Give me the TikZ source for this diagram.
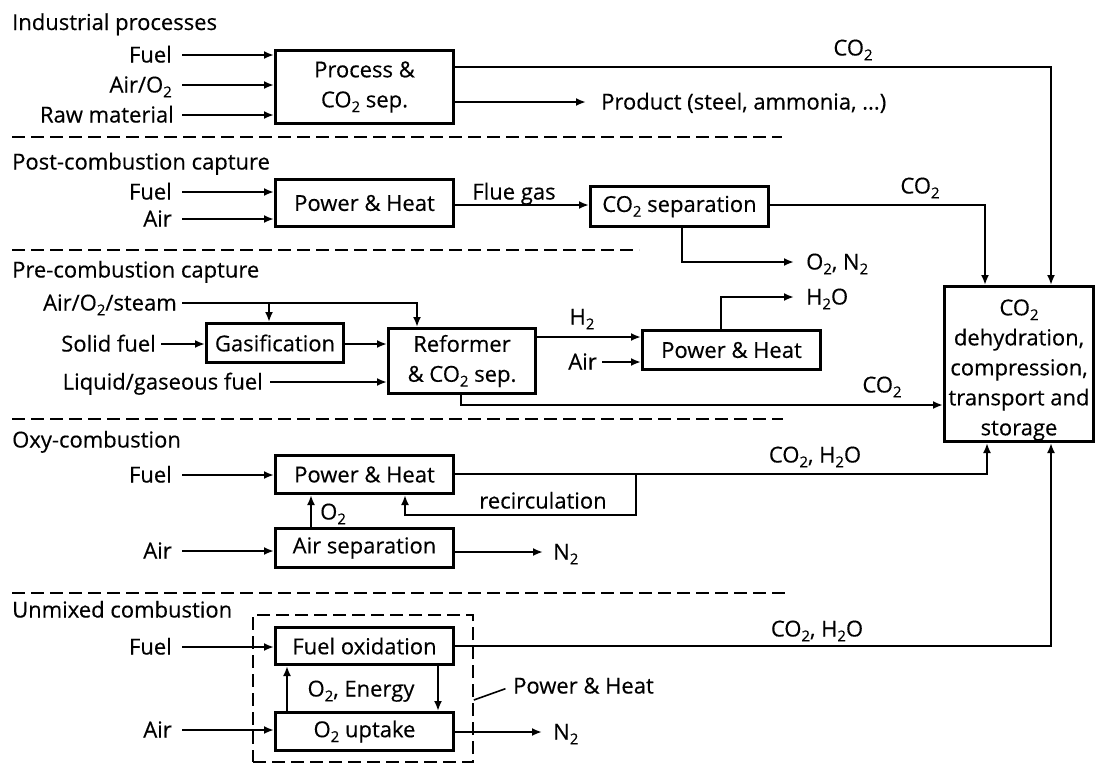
\documentclass[tikz,border=0pt]{standalone}
\usepackage{fontspec}
\setmainfont{Open Sans}
\newfontfamily\myf{Open Sans}[FakeBold=0.35]
\usetikzlibrary{arrows.meta}
\newcommand{\sbt}[1]{\raisebox{-4.8pt}{\fontsize{15}{15}\selectfont #1}}
\begin{document}
\begin{tikzpicture}[x=1pt,y=-1pt,
  every node/.style={font=\myf\fontsize{22}{30}\selectfont},
  box/.style={draw, line width=3pt, inner sep=0pt, align=center},
  arr/.style={line width=2.1pt, -{Latex[length=10pt,width=8pt]}},
  lab/.style={inner sep=0pt, text height=15pt, text depth=0pt},
  sepline/.style={line width=1.6pt, dash pattern=on 13pt off 6pt},
]
\useasboundingbox (0,0) rectangle (1097,764);

% ---------- boxes ----------
\node[box, minimum width=178pt, minimum height=73pt] (proc) at (364.5,87) {Process \&\\CO\sbt{2} sep.};
\node[box, minimum width=178pt, minimum height=47pt] (ph1) at (364.5,203) {Power \& Heat};
\node[box, minimum width=178pt, minimum height=40pt] (sep1) at (679.5,206.5) {CO\sbt{2} separation};
\node[box, minimum width=137pt, minimum height=39pt] (gas) at (275,343) {Gasification};
\node[box, minimum width=147pt, minimum height=65pt] (ref) at (462,361) {Reformer\\\& CO\sbt{2} sep.};
\node[box, minimum width=178pt, minimum height=39pt] (ph2) at (731.5,350) {Power \& Heat};
\node[box, minimum width=178pt, minimum height=38pt] (ph3) at (364.5,474.5) {Power \& Heat};
\node[box, minimum width=178pt, minimum height=39pt] (asep) at (364.5,548) {Air separation};
\node[box, minimum width=178pt, minimum height=37pt] (fox) at (364.5,646) {Fuel oxidation};
\node[box, minimum width=178pt, minimum height=38pt] (o2u) at (364.5,731.5) {O\sbt{2} uptake};
\node[box, minimum width=149pt, minimum height=155pt] (store) at (1019,364) {};
\node[align=center, inner sep=0pt] (storetxt) at ([yshift=-6pt]store.center) {CO\sbt{2}\\dehydration,\\compression,\\transport and\\storage};
\node[draw, line width=1.6pt, dash pattern=on 13pt off 6pt, minimum width=220pt, minimum height=147pt, inner sep=0pt] (dbox) at (363,688.5) {};

% ---------- separators ----------
\draw[sepline] (12,137) -- (782,137);
\draw[sepline] (12,250) -- (639,250);
\draw[sepline] (12,419) -- (783,419);
\draw[sepline] (12,593) -- (785,593);

% ---------- section titles ----------
\node[lab, anchor=west] (t1) at (12,22.5) {Industrial processes};
\node[lab, anchor=west] (t2) at (12,162) {Post-combustion capture};
\node[lab, anchor=west] (t3) at (12,270) {Pre-combustion capture};
\node[lab, anchor=west] (t4) at (12,440) {Oxy-combustion};
\node[lab, anchor=west] (t5) at (12,610) {Unmixed combustion};

% ---------- industrial ----------
\node[lab, anchor=east] (f1) at (172,55) {Fuel};
\node[lab, anchor=east] (a1) at (172,85) {Air/O\sbt{2}};
\node[lab, anchor=east] (r1) at (174,115) {Raw material};
\draw[arr, shorten <=10pt] (f1.east) -- (f1.east -| proc.west);
\draw[arr, shorten <=10pt] (a1.east) -- (a1.east -| proc.west);
\draw[arr, shorten <=8pt] (r1.east) -- (r1.east -| proc.west);
\node[lab, anchor=west] (prod) at (601,102) {Product (steel, ammonia, ...)};
\draw[arr, shorten >=15pt] (proc.east |- prod.west) -- (prod.west);
\draw[arr] (proc.east |- 0,67) -| ([xshift=32pt]store.north);
\node[lab] (lc1) at (853,48) {CO\sbt{2}};

% ---------- post-combustion ----------
\node[lab, anchor=east] (f2) at (172,192) {Fuel};
\node[lab, anchor=east] (a2) at (172,219) {Air};
\draw[arr, shorten <=10pt] (f2.east) -- (f2.east -| ph1.west);
\draw[arr, shorten <=10pt] (a2.east) -- (a2.east -| ph1.west);
\draw[arr] (ph1.east |- 0,205) -- (sep1.west |- 0,205);
\node[lab] (flue) at (514,192) {Flue gas};
\draw[arr] (sep1.east |- 0,205) -| ([xshift=-34pt]store.north);
\node[lab] (lc2) at (920,186) {CO\sbt{2}};
\node[lab, anchor=west] (on2) at (806,262) {O\sbt{2}, N\sbt{2}};
\draw[arr, shorten >=12pt] (sep1.south -| 682,0) |- (on2.west);

% ---------- pre-combustion ----------
\node[lab, anchor=east] (aos) at (177,303) {Air/O\sbt{2}/steam};
\node[lab, anchor=east] (sf) at (156,344) {Solid fuel};
\node[lab, anchor=east] (lgf) at (263,382) {Liquid/gaseous fuel};
\draw[arr, shorten <=5pt] (aos.east) -| ([xshift=-45pt]ref.north);
\draw[arr] ([xshift=-6pt]gas.north |- aos.east) -- ([xshift=-6pt]gas.north);
\draw[arr, shorten <=5pt] (sf.east) -- (sf.east -| gas.west);
\draw[arr] (gas.east |- 0,344) -- (ref.west |- 0,344);
\draw[arr, shorten <=7pt] (lgf.east) -- (lgf.east -| ref.west);
\draw[arr] (ref.east |- 0,337) -- (ph2.west |- 0,337);
\node[lab] (h2) at (582,317) {H\sbt{2}};
\node[lab, anchor=east] (a3) at (597,362) {Air};
\draw[arr, shorten <=5pt] (a3.east) -- (a3.east -| ph2.west);
\node[lab, anchor=west] (h2o) at (806,297) {H\sbt{2}O};
\draw[arr, shorten >=12pt] (ph2.north -| 721,0) |- (h2o.west);
\draw[arr] (ref.south -| 461,0) |- (store.west |- 0,405);
\node[lab] (lc3) at (882,385) {CO\sbt{2}};

% ---------- oxy-combustion ----------
\node[lab, anchor=east] (f4) at (172,475) {Fuel};
\draw[arr, shorten <=10pt] (f4.east) -- (f4.east -| ph3.west);
\draw[arr] (ph3.east |- 0,474) -| ([xshift=-32pt]store.south);
\node[lab] (lc4) at (815,455) {CO\sbt{2}, H\sbt{2}O};
\coordinate (rj) at (636,474);
\draw[arr] (rj) |- ([xshift=40.5pt]ph3.south |- 0,515) -- ([xshift=40.5pt]ph3.south);
\node[lab] (rec) at (543,501) {recirculation};
\draw[arr] (asep.north -| 311,0) -- (ph3.south -| 311,0);
\node[lab, anchor=west] (o2a) at (320,512) {O\sbt{2}};
\node[lab, anchor=east] (a4) at (172,551) {Air};
\draw[arr, shorten <=10pt] (a4.east) -- (a4.east -| asep.west);
\node[lab, anchor=west] (n2a) at (553,552) {N\sbt{2}};
\draw[arr, shorten >=10pt] (asep.east |- n2a.west) -- (n2a.west);

% ---------- unmixed combustion ----------
\node[lab, anchor=east] (f5) at (172,647) {Fuel};
\node[lab, anchor=east] (a5) at (172,730) {Air};
\draw[arr, shorten <=10pt] (f5.east) -- (f5.east -| fox.west);
\draw[arr, shorten <=10pt] (a5.east) -- (a5.east -| o2u.west);
\draw[arr] (fox.east) -| ([xshift=32pt]store.south);
\node[lab] (lc5) at (817,629) {CO\sbt{2}, H\sbt{2}O};
\draw[arr] (o2u.north -| 287,0) -- (fox.south -| 287,0);
\draw[arr] (fox.south -| 438,0) -- (o2u.north -| 438,0);
\node[lab] (oen) at (361,689) {O\sbt{2}, Energy};
\node[lab, anchor=west] (n2b) at (553,732) {N\sbt{2}};
\draw[arr, shorten >=11pt] (o2u.east |- n2b.west) -- (n2b.west);
\node[lab, anchor=west] (pht) at (513,686) {Power \& Heat};
\draw[line width=1.6pt, shorten >=8pt] (dbox.east |- 0,700) -- (pht.west);
\end{tikzpicture}
\end{document}
